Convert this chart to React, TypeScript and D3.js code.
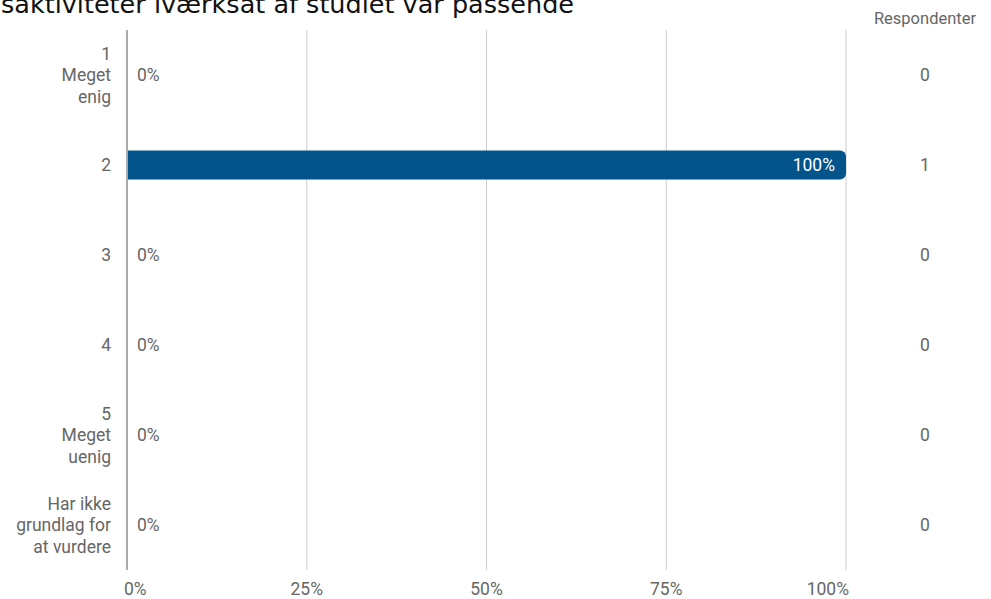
import React from "react";
import * as d3 from "d3";

const categories: string[][] = [
  ["1", "Meget", "enig"],
  ["2"],
  ["3"],
  ["4"],
  ["5", "Meget", "uenig"],
  ["Har ikke", "grundlag for", "at vurdere"],
];
const percents = [0, 100, 0, 0, 0, 0];
const respondents = [0, 1, 0, 0, 0, 0];
const ticks = [0, 25, 50, 75, 100];
const title = "saktiviteter iværksat af studiet var passende";
const countHeader = "Respondenter";

const W = 991;
const H = 599;

export default function App() {
  const x = d3.scaleLinear().domain([0, 100]).range([127, 846]);
  const y = d3
    .scaleBand<number>()
    .domain(categories.map((_, i) => i))
    .range([30, 570]);
  const barH = 29;
  const lineH = 21.5;
  const txt = "#666";
  const font = "Roboto, sans-serif";
  const fs = 17.5;

  return (
    <svg
      width={W}
      height={H}
      style={{ position: "absolute", left: 0, top: 0, background: "#fff" }}
      fontFamily={font}
    >
      <text x={1} y={13} fontSize={25.5} fontFamily="'DejaVu Sans', sans-serif" fill="#111">
        {title}
      </text>
      {ticks.map((t, i) => (
        <g key={t}>
          <line
            x1={x(t)}
            x2={x(t)}
            y1={30}
            y2={570}
            stroke={t === 0 ? "#aaa" : "#ccc"}
            strokeWidth={t === 0 ? 2 : 1}
          />
          <text
            x={i === 0 ? x(t) - 3 : i === ticks.length - 1 ? x(t) + 3 : x(t)}
            y={595}
            fontSize={fs}
            fill={txt}
            textAnchor={i === 0 ? "start" : i === ticks.length - 1 ? "end" : "middle"}
          >
            {t}%
          </text>
        </g>
      ))}
      <text x={925} y={24} fontSize={16.5} fill={txt} textAnchor="middle">
        {countHeader}
      </text>
      {categories.map((lines, i) => {
        const cy = (y(i) as number) + y.bandwidth() / 2;
        const v = percents[i];
        const x0 = x(0) + 1;
        const x1 = x(v);
        const r = 6;
        const w = x1 - x0;
        return (
          <g key={i}>
            {lines.map((l, j) => (
              <text
                key={j}
                x={111}
                y={cy + (j - (lines.length - 1) / 2) * lineH}
                dy="0.35em"
                fontSize={fs}
                fill={txt}
                textAnchor="end"
              >
                {l}
              </text>
            ))}
            {v > 0 ? (
              <>
                <path
                  d={`M${x0},${cy - barH / 2} H${x0 + w - r} A${r},${r} 0 0 1 ${x0 + w},${cy - barH / 2 + r} V${cy + barH / 2 - r} A${r},${r} 0 0 1 ${x0 + w - r},${cy + barH / 2} H${x0} Z`}
                  fill="#02548A"
                />
                <text x={x1 - 11} y={cy} dy="0.35em" fontSize={fs} fill="#fff" textAnchor="end">
                  {v}%
                </text>
              </>
            ) : (
              <text x={x(0) + 10} y={cy} dy="0.35em" fontSize={fs} fill={txt}>
                {v}%
              </text>
            )}
            <text x={925} y={cy} dy="0.35em" fontSize={fs} fill={txt} textAnchor="middle">
              {respondents[i]}
            </text>
          </g>
        );
      })}
    </svg>
  );
}
